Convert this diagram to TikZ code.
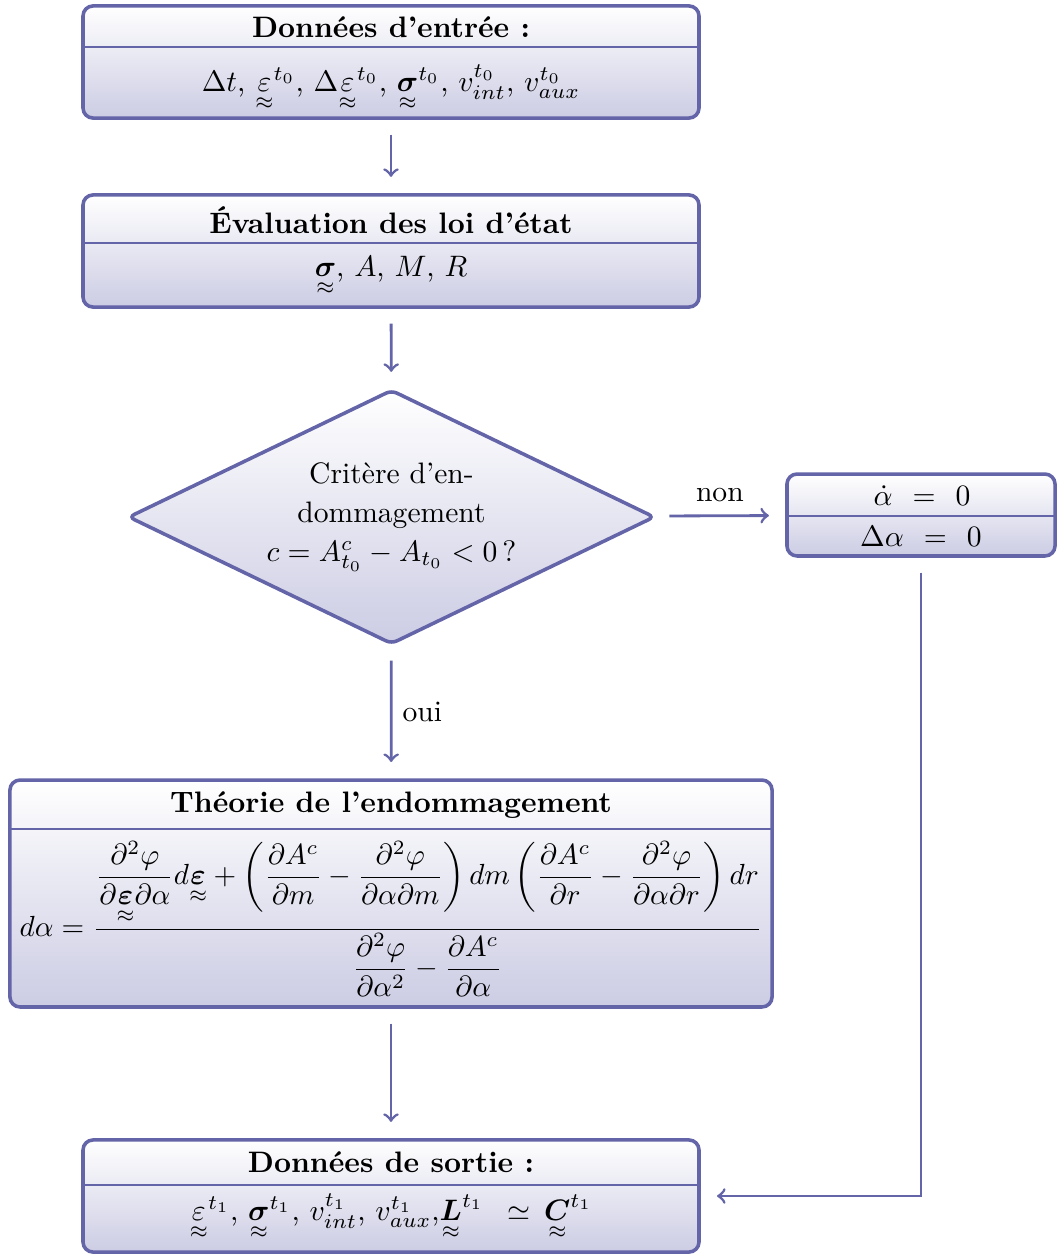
\documentclass[tikz,border=0pt]{standalone}
\usepackage{amsmath,amssymb}
\usetikzlibrary{shapes.geometric}
\definecolor{bordc}{RGB}{100,100,168}
\definecolor{fillb}{RGB}{204,204,228}
\newcommand{\tens}[1]{\underset{\approx}{#1}}
\begin{document}
\begin{tikzpicture}[x=0.338pt,y=-0.338pt,
  box/.style={draw=bordc, line width=1.2pt, rounded corners=3.4pt, top color=white, bottom color=fillb, inner sep=0pt},
  divider/.style={draw=bordc, line width=0.9pt},
  conn/.style={draw=bordc, line width=0.95pt, ->, shorten <=5pt, shorten >=5.5pt},
  txt/.style={anchor=base, inner sep=0pt}]
\useasboundingbox (0,0) rectangle (1059,1259);

% Box 1
\node[box, minimum width=208.2pt, minimum height=37.9pt] (b1) at (391,62) {};
\draw[divider] (b1.west |- 0,47) -- (b1.east |- 0,47);
\node[txt] (b1t) at (391,37) {\textbf{Données d’entrée :}};
\node[txt] (b1c) at (391,91) {$\Delta t$, $\tens{\varepsilon}^{t_0}$, $\Delta\tens{\varepsilon}^{t_0}$, $\tens{\boldsymbol{\sigma}}^{t_0}$, $v_{int}^{t_0}$, $v_{aux}^{t_0}$};

% Box 2
\node[box, minimum width=208.2pt, minimum height=37.9pt] (b2) at (391,251) {};
\draw[divider] (b2.west |- 0,243) -- (b2.east |- 0,243);
\node[txt] (b2t) at (391,233) {\textbf{Évaluation des loi d’état}};
\node[txt] (b2c) at (391,276) {$\tens{\boldsymbol{\sigma}}$, $A$, $M$, $R$};

% Diamond
\node[diamond, aspect=2, draw=bordc, line width=1.2pt, rounded corners=2pt, top color=white, bottom color=fillb,
      minimum width=178pt, minimum height=86pt, inner sep=0pt, align=center] (dia) at (391.5,517)
  {Critère d’en-\\[1.2pt]dommagement\\[1.2pt]$c = A^c_{t_0} - A_{t_0} < 0\,$?};

% Box 3
\node[box, minimum width=90.6pt, minimum height=27.7pt] (b3) at (921,515) {};
\draw[divider] (b3.west |- 0,516) -- (b3.east |- 0,516);
\node[txt] (b3a) at (922,505) {$\dot{\alpha}\hspace{4pt}=\hspace{4pt}0$};
\node[txt] (b3b) at (921,546) {$\Delta\alpha\hspace{4pt}=\hspace{4pt}0$};

% Box 4
\node[box, minimum width=257.6pt, minimum height=76.7pt] (b4) at (391,893.5) {};
\draw[divider] (b4.west |- 0,829) -- (b4.east |- 0,829);
\node[txt] (b4t) at (391,812) {\textbf{Théorie de l’endommagement}};
\node[txt] (b4c) at (391,936.4) {\scalebox{0.984}{$\displaystyle d\alpha = \frac{\dfrac{\partial^2\varphi}{\partial\tens{\boldsymbol{\varepsilon}}\partial\alpha}d\tens{\boldsymbol{\varepsilon}} + \left(\dfrac{\partial A^c}{\partial m} - \dfrac{\partial^2\varphi}{\partial\alpha\partial m}\right) dm \left(\dfrac{\partial A^c}{\partial r} - \dfrac{\partial^2\varphi}{\partial\alpha\partial r}\right) dr}{\dfrac{\partial^2\varphi}{\partial\alpha^2} - \dfrac{\partial A^c}{\partial\alpha}}$}};

% Box 5
\node[box, minimum width=208.2pt, minimum height=37.9pt] (b5) at (391,1196) {};
\draw[divider] (b5.west |- 0,1185) -- (b5.east |- 0,1185);
\node[txt] (b5t) at (391,1172) {\textbf{Données de sortie :}};
\node[txt] (b5c) at (391,1220) {$\tens{\varepsilon}^{t_1}$, $\tens{\boldsymbol{\sigma}}^{t_1}$, $v_{int}^{t_1}$, $v_{aux}^{t_1}$,$\tens{\boldsymbol{L}}^{t_1}\hspace{5pt}\simeq\hspace{2pt}\tens{\boldsymbol{C}}^{t_1}$};

% Connectors
\draw[conn] (b1) -- (b2);
\draw[conn] (b2) -- (dia);
\draw[conn] (dia) -- node[above=1pt, text=black] {non} (b3);
\draw[conn] (dia) -- node[right, text=black] {oui} (b4);
\draw[conn] (b4) -- (b5);
\draw[conn] (b3) |- (b5);
\end{tikzpicture}
\end{document}
